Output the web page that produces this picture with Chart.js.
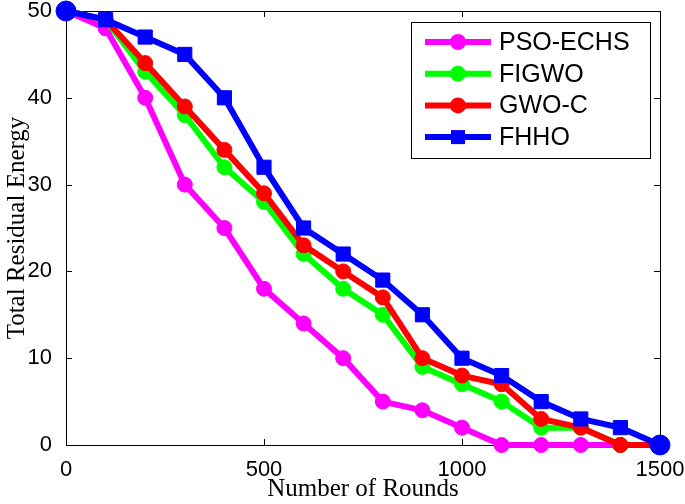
<!DOCTYPE html>
<html>
<head>
<meta charset="utf-8">
<script src="https://cdn.jsdelivr.net/npm/chart.js@4/dist/chart.umd.min.js"></script>
<style>
  html, body { margin: 0; padding: 0; background: #fff; }
  #wrap { width: 685px; height: 504px; }
</style>
</head>
<body>
<div id="wrap"><canvas id="chart" width="685" height="504"></canvas></div>
<script>
const rounds = [0, 100, 200, 300, 400, 500, 600, 700, 800, 900, 1000, 1100, 1200, 1300, 1400, 1500];
const psoEchs = [50, 48, 40, 30, 25, 18, 14, 10, 5, 4, 2, 0, 0, 0, 0, 0];
const figwo = [50, 49, 43, 38, 32, 28, 22, 18, 15, 9, 7, 5, 2, 2, 0, 0];
const gwoC = [50, 49, 44, 39, 34, 29, 23, 20, 17, 10, 8, 7, 3, 2, 0, 0];
const fhho = [50, 49, 47, 45, 40, 32, 25, 22, 19, 15, 10, 8, 5, 3, 2, 0];
const xTicks = [0, 500, 1000, 1500];
const yTicks = [0, 10, 20, 30, 40, 50];

const seriesNames = ["PSO-ECHS", "FIGWO", "GWO-C", "FHHO"];
const seriesValues = [psoEchs, figwo, gwoC, fhho];
const seriesColors = ["#ff00ff", "#00ff00", "#ff0000", "#0000ff"];
const seriesStyles = ["circle", "circle", "circle", "rect"];

const tickFont = { family: "Liberation Sans", size: 22 };
const titleFont = { family: "Liberation Serif", size: 25 };

// frame and inward ticks like a matlab axes box
const framePlugin = {
  id: "frame",
  beforeDatasetsDraw(chart) {
    const { ctx, chartArea: a, scales } = chart;
    ctx.save();
    ctx.strokeStyle = "#000";
    ctx.lineWidth = 1;
    ctx.strokeRect(a.left + 0.5, a.top + 0.5, a.right - a.left, a.bottom - a.top);
    ctx.beginPath();
    xTicks.forEach((v) => {
      const px = Math.round(scales.x.getPixelForValue(v)) + 0.5;
      ctx.moveTo(px, a.bottom); ctx.lineTo(px, a.bottom - 6);
      ctx.moveTo(px, a.top); ctx.lineTo(px, a.top + 6);
    });
    yTicks.forEach((v) => {
      const py = Math.round(scales.y.getPixelForValue(v)) + 0.5;
      ctx.moveTo(a.left, py); ctx.lineTo(a.left + 6, py);
      ctx.moveTo(a.right, py); ctx.lineTo(a.right - 6, py);
    });
    ctx.stroke();
    ctx.restore();
  },
};

// legend box in the upper right corner
const legendPlugin = {
  id: "boxLegend",
  afterDraw(chart) {
    const ctx = chart.ctx;
    const bx = 411, by = 22, bw = 239, bh = 136;
    ctx.save();
    ctx.fillStyle = "#fff";
    ctx.fillRect(bx, by, bw, bh);
    ctx.strokeStyle = "#000";
    ctx.lineWidth = 1;
    ctx.strokeRect(bx + 0.5, by + 0.5, bw, bh);
    chart.data.datasets.forEach((ds, i) => {
      const y = 42 + i * 31.7;
      ctx.strokeStyle = ds.borderColor;
      ctx.lineWidth = 6;
      ctx.beginPath();
      ctx.moveTo(425, y);
      ctx.lineTo(491, y);
      ctx.stroke();
      ctx.fillStyle = ds.borderColor;
      if (ds.legendMarker === "rect") {
        ctx.fillRect(451, y - 7, 14, 14);
      } else {
        ctx.beginPath();
        ctx.arc(458, y, 8, 0, Math.PI * 2);
        ctx.fill();
      }
      ctx.fillStyle = "#000";
      ctx.font = "25px 'Liberation Sans'";
      ctx.textBaseline = "middle";
      ctx.fillText(ds.label, 499, y + 1);
    });
    ctx.restore();
  },
};

const datasets = seriesNames.map((name, i) => ({
  label: name,
  data: rounds.map((r, j) => ({ x: r, y: seriesValues[i][j] })),
  borderColor: seriesColors[i],
  backgroundColor: seriesColors[i],
  pointBackgroundColor: seriesColors[i],
  pointBorderColor: seriesColors[i],
  borderWidth: 6,
  pointRadius: seriesStyles[i] === "rect" ? 10 : 7.5,
  pointBorderWidth: 1,
  pointStyle: seriesStyles[i] === "rect"
    ? (c) => (c.dataIndex === 0 || c.dataIndex === rounds.length - 1 ? "circle" : "rect")
    : "circle",
  legendMarker: seriesStyles[i],
  tension: 0,
  clip: false,
  order: seriesNames.length - 1 - i,
}));

new Chart(document.getElementById("chart"), {
  type: "line",
  data: { datasets },
  plugins: [framePlugin, legendPlugin],
  options: {
    responsive: false,
    animation: false,
    layout: { padding: { top: 10, right: 25, left: 0, bottom: 0 } },
    plugins: { legend: { display: false }, tooltip: { enabled: false } },
    scales: {
      x: {
        type: "linear",
        min: 0,
        max: 1500,
        afterBuildTicks: (s) => { s.ticks = xTicks.map((v) => ({ value: v })); },
        afterFit: (s) => { s.height = 59; s.paddingLeft = 0; s.paddingRight = 0; },
        grid: { display: false },
        border: { display: false },
        ticks: { font: tickFont, color: "#000", padding: 4, maxRotation: 0, callback: (v) => String(v) },
        title: { display: true, text: "Number of Rounds", font: titleFont, color: "#000", padding: { top: 0, bottom: 0 } },
      },
      y: {
        min: 0,
        max: 50,
        afterBuildTicks: (s) => { s.ticks = yTicks.map((v) => ({ value: v })); },
        afterFit: (s) => { s.width = 66; s.paddingTop = 0; s.paddingBottom = 0; },
        grid: { display: false },
        border: { display: false },
        ticks: { font: tickFont, color: "#000", padding: 6, callback: (v) => String(v) },
        title: { display: true, text: "Total Residual Energy", font: titleFont, color: "#000", padding: { top: 2, bottom: 0 } },
      },
    },
  },
});
</script>
</body>
</html>
